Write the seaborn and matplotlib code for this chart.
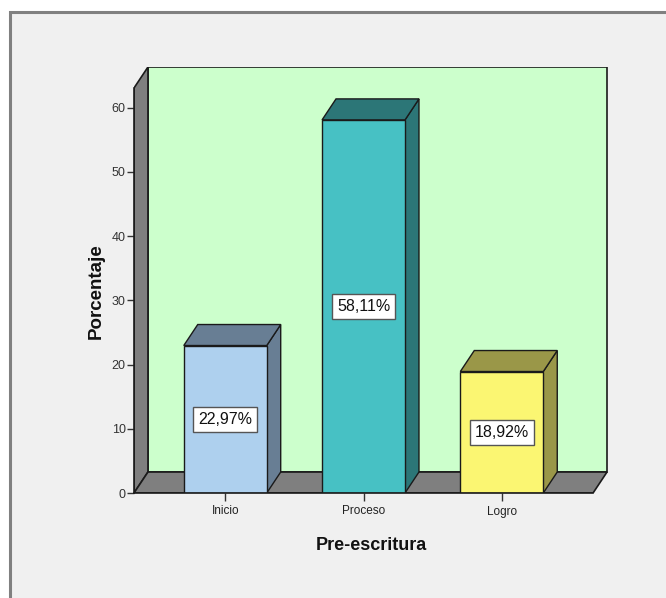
import matplotlib
matplotlib.use("Agg")
import matplotlib.pyplot as plt
import seaborn as sns
import pandas as pd
from matplotlib.patches import Polygon, Rectangle

categories = ["Inicio", "Proceso", "Logro"]
values = [22.97, 58.11, 18.92]
labels = ["22,97%", "58,11%", "18,92%"]
yticks = [0, 10, 20, 30, 40, 50, 60]
front_colors = ["#AED0EE", "#47C1C4", "#FBF672"]
side_colors = ["#687E94", "#2C7677", "#9A9748"]

sns.set_style("white")
FONT = ["Liberation Sans", "DejaVu Sans"]
plt.rcParams["font.family"] = FONT

W, H = 666, 598
fig = plt.figure(figsize=(W / 100, H / 100), dpi=100)
fig.patch.set_facecolor("white")
# outer frame
fig.patches.append(Rectangle((10 / W, -0.1), 1.1, (H - 12) / H + 0.1, transform=fig.transFigure,
                             facecolor="#F0F0F0", edgecolor="#808080", lw=2.2, zorder=-10))

ax = fig.add_axes([134 / W, 1 - 493 / H, (608 - 134) / W, (493 - 67) / H])
ax.set_facecolor("none")

x0, x1 = -0.66, 2.66
ytop = 63.08
dx, dy = 0.101, 3.27

df = pd.DataFrame({"cat": categories, "val": values})
sns.barplot(data=df, x="cat", y="val", hue="cat", palette=front_colors, width=0.6, saturation=1,
            edgecolor="#1a1a1a", linewidth=1.0, legend=False, ax=ax, zorder=3)
bars = [p for p in ax.patches if isinstance(p, Rectangle)]

ax.set_xlim(x0, 2.768)
ax.set_ylim(0, ytop + dy)

# back wall, left wall, floor
ax.add_patch(Rectangle((x0 + dx, dy), x1 - x0, ytop, facecolor="#CCFFCC", edgecolor="#1a1a1a", lw=1.2, zorder=1))
ax.add_patch(Polygon([(x0, 0), (x0, ytop), (x0 + dx, ytop + dy), (x0 + dx, dy)], closed=True,
                     facecolor="#7F7F7F", edgecolor="#1a1a1a", lw=1.2, zorder=1))
ax.add_patch(Polygon([(x0, 0), (x1, 0), (x1 + dx, dy), (x0 + dx, dy)], closed=True,
                     facecolor="#7F7F7F", edgecolor="#1a1a1a", lw=1.2, zorder=1))

for i, p in enumerate(bars):
    bx, bw, bh = p.get_x(), p.get_width(), p.get_height()
    side = Polygon([(bx + bw, 0), (bx + bw, bh), (bx + bw + dx, bh + dy), (bx + bw + dx, dy)], closed=True,
                   facecolor=side_colors[i], edgecolor="#1a1a1a", lw=1.0, zorder=2.9)
    top = Polygon([(bx, bh), (bx + bw, bh), (bx + bw + dx, bh + dy), (bx + dx, bh + dy)], closed=True,
                  facecolor=side_colors[i], edgecolor="#1a1a1a", lw=1.0, zorder=2.9)
    ax.add_patch(side)
    ax.add_patch(top)
    ax.text(bx + bw / 2, bh / 2, labels[i], ha="center", va="center", fontsize=11.5, color="#111111",
            zorder=5, bbox=dict(boxstyle="square,pad=0.32", facecolor="white", edgecolor="#555555", lw=1.0))

for s in ["top", "right"]:
    ax.spines[s].set_visible(False)
ax.spines["left"].set_bounds(0, ytop)
ax.spines["bottom"].set_bounds(x0, x1)
ax.spines["left"].set_color("#1a1a1a")
ax.spines["bottom"].set_color("#1a1a1a")
ax.spines["left"].set_linewidth(1.2)
ax.spines["bottom"].set_linewidth(1.2)
ax.spines["left"].set_zorder(4)
ax.spines["bottom"].set_zorder(4)

ax.set_yticks(yticks)
ax.set_yticklabels([str(v) for v in yticks])
ax.tick_params(axis="y", length=5, width=1, color="#333333", labelsize=9, labelcolor="#333333", pad=1, left=True)
ax.tick_params(axis="x", length=6, width=1, color="#333333", labelsize=8.5, labelcolor="#222222", pad=3, bottom=True)

ax.set_xlabel("Pre-escritura", fontsize=13, fontweight="bold", color="#111111", labelpad=14)
ax.set_ylabel("Porcentaje", fontsize=13.5, fontweight="bold", color="#111111", labelpad=5)
ax.yaxis.label.set_y(0.474)

fig.savefig("out.png", dpi=100)
